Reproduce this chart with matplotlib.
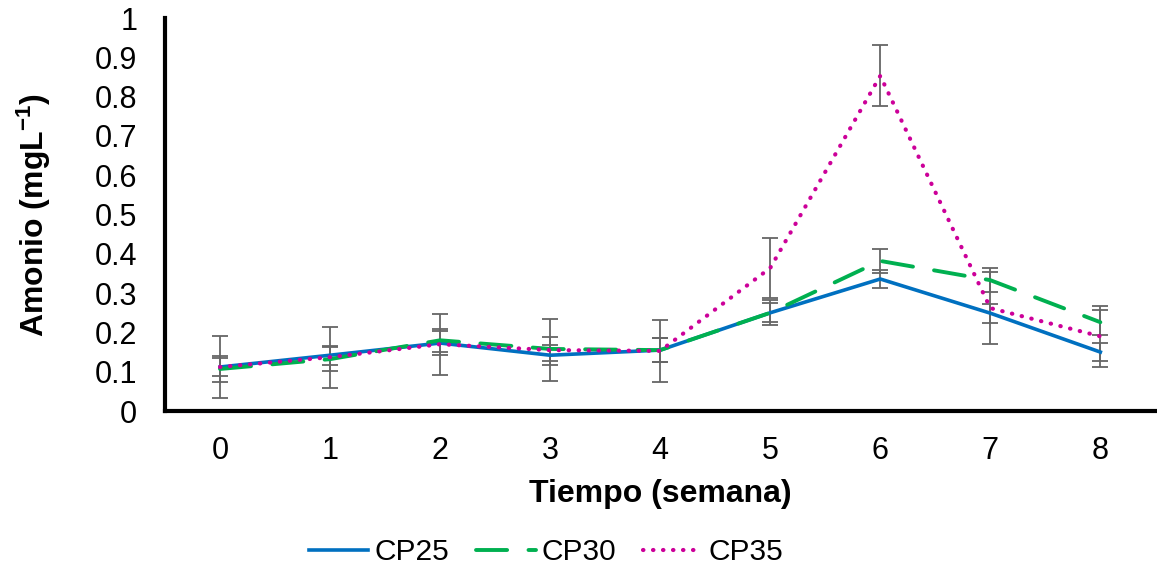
#! /usr/bin/env python3

import numpy as np
import matplotlib
matplotlib.use("Agg")
import matplotlib.pyplot as plt

plt.rcParams['font.family'] = ['Liberation Sans', 'DejaVu Sans']
plt.rcParams['mathtext.fontset'] = 'custom'
plt.rcParams['mathtext.rm'] = 'Liberation Sans:bold'
plt.rcParams['mathtext.default'] = 'rm'

# weekly ammonium readings (mg/L) and their error bars
semanas = [0, 1, 2, 3, 4, 5, 6, 7, 8]
cp25 = [0.112, 0.142, 0.173, 0.142, 0.155, 0.250, 0.336, 0.249, 0.150]
cp30 = [0.107, 0.132, 0.180, 0.158, 0.155, 0.250, 0.382, 0.333, 0.226]
cp35 = [0.112, 0.137, 0.170, 0.155, 0.153, 0.364, 0.853, 0.262, 0.190]
err25 = [0.024, 0.024, 0.030, 0.025, 0.030, 0.024, 0.023, 0.024, 0.023]
err30 = [0.032, 0.030, 0.030, 0.030, 0.030, 0.032, 0.030, 0.030, 0.032]
err35 = [0.079, 0.078, 0.078, 0.078, 0.078, 0.077, 0.078, 0.092, 0.078]

FS = 22

series = [
	("CP25", cp25, err25, "#0070C0", 2.6, dict(linestyle='-')),
	("CP30", cp30, err30, "#00B050", 2.8, dict(linestyle=(0, (8, 5.5)), dash_capstyle='round')),
	("CP35", cp35, err35, "#CC0099", 3.0, dict(linestyle=(0, (0.1, 2.3)), dash_capstyle='round')),
]

fig = plt.figure(figsize=(11.57, 5.67), dpi=100)
ax = fig.add_axes([0.1426, 0.2751, 0.856, 0.693])

for name, y, err, color, lw, style in series:
	ax.errorbar(semanas, y, yerr=err, fmt='none', ecolor='#666666',
		elinewidth=1.3, capsize=6, capthick=1.3, zorder=2)
	ax.plot(semanas, y, color=color, linewidth=lw, label=name, zorder=3, **style)

ax.set_xlim(-0.5, 8.5)
ax.set_ylim(0, 1)
ax.set_xticks(semanas)
ax.set_yticks(np.arange(0, 1.01, 0.1))
ax.set_yticklabels(["0", "0.1", "0.2", "0.3", "0.4", "0.5", "0.6", "0.7", "0.8", "0.9", "1"])

for side in ['top', 'right']:
	ax.spines[side].set_visible(False)
for side in ['left', 'bottom']:
	ax.spines[side].set_linewidth(3)
	ax.spines[side].set_color('black')

ax.tick_params(axis='y', length=0, pad=20, labelsize=FS)
ax.tick_params(axis='x', length=0, pad=18, labelsize=FS)

ax.set_xlabel("Tiempo (semana)", fontsize=23, fontweight='bold', labelpad=9)
ax.set_ylabel(r"Amonio (mgL$^{-1}$)", fontsize=23, fontweight='bold', labelpad=30)

fig.legend(loc='lower center', ncol=3, frameon=False, fontsize=21.5,
	handlelength=2.0, handletextpad=0.2, columnspacing=0.9,
	bbox_to_anchor=(0.472, -0.046))

fig.savefig("out.png", dpi=100)
